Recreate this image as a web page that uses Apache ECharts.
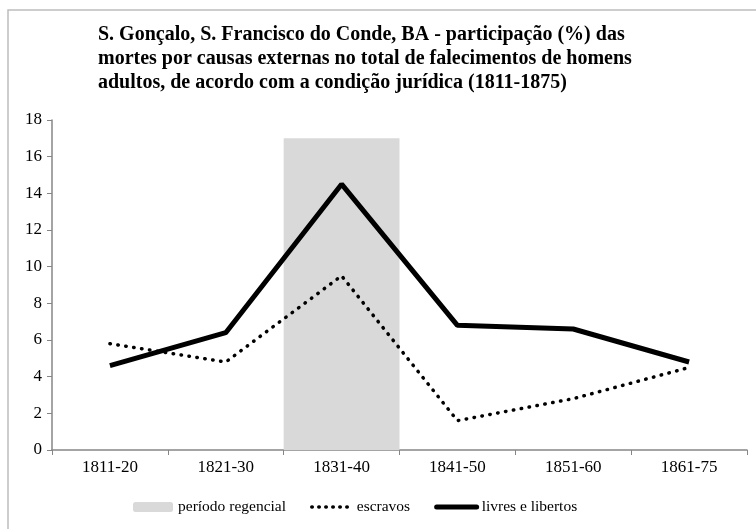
<!DOCTYPE html>
<html>
<head>
<meta charset="utf-8">
<script src="https://cdn.jsdelivr.net/npm/echarts@6/dist/echarts.min.js"></script>
<style>
  html, body { margin: 0; padding: 0; background: #fff; }
  #main { width: 756px; height: 529px; }
</style>
</head>
<body>
<div id="main"></div>
<script>
// periodos
var categories = ['1811-20', '1821-30', '1831-40', '1841-50', '1851-60', '1861-75'];
// faixa do periodo regencial (so na coluna 1831-40)
var regencial = [null, null, 17, null, null, null];
var escravos = [5.8, 4.8, 9.5, 1.6, 2.8, 4.5];
var livres = [4.6, 6.4, 14.5, 6.8, 6.6, 4.8];

var serif = '"Liberation Serif", "Times New Roman", serif';

var chart = echarts.init(document.getElementById('main'));

// sem bolinha no icone da legenda das linhas
var noSymbol = { color: 'transparent', borderWidth: 0, opacity: 0 };
var dotted = { color: '#000', width: 3.5, type: [0.5, 7.5], cap: 'round' };
var solid = { color: '#000', width: 5 };

var option = {
    backgroundColor: '#fff',
    animation: false,
    textStyle: { fontFamily: serif, color: '#000' },
    title: {
        text: 'S. Gonçalo, S. Francisco do Conde, BA - participação (%) das\nmortes por causas externas no total de falecimentos de homens\nadultos, de acordo com a condição jurídica (1811-1875)',
        left: 98,
        top: 23,
        padding: 0,
        textStyle: {
            fontFamily: serif,
            fontSize: 20,
            fontWeight: 'bold',
            color: '#000',
            lineHeight: 24
        }
    },
    graphic: [{
        type: 'rect',
        shape: { x: 8, y: 10, width: 800, height: 600 },
        style: { fill: 'none', stroke: '#bdbdbd', lineWidth: 1.5 },
        silent: true
    }],
    legend: {
        left: 133,
        top: 499,
        padding: 0,
        itemWidth: 40,
        itemHeight: 10,
        itemGap: 24,
        textStyle: { fontFamily: serif, fontSize: 15.5, color: '#000' },
        data: [
            { name: 'período regencial' },
            { name: 'escravos', itemStyle: noSymbol, lineStyle: { width: 3.5, type: [0.5, 6.5], cap: 'round' } },
            { name: 'livres e libertos', itemStyle: noSymbol, lineStyle: { width: 5, cap: 'round' } }
        ]
    },
    grid: { left: 52, right: 9, top: 120, bottom: 79 },
    xAxis: {
        type: 'category',
        data: categories,
        boundaryGap: true,
        axisLine: { lineStyle: { color: '#868686', width: 1.5 } },
        axisTick: { show: true, length: 5, lineStyle: { color: '#868686' } },
        axisLabel: { fontFamily: serif, fontSize: 17, color: '#000', margin: 9 }
    },
    yAxis: {
        type: 'value',
        min: 0,
        max: 18,
        interval: 2,
        splitLine: { show: false },
        axisLine: { show: true, lineStyle: { color: '#868686', width: 1.5 } },
        axisTick: { show: true, length: 5, lineStyle: { color: '#868686' } },
        axisLabel: { fontFamily: serif, fontSize: 17, color: '#000', margin: 10 }
    },
    series: [
        {
            name: 'período regencial',
            type: 'bar',
            data: regencial,
            barWidth: '100%',
            itemStyle: { color: '#d9d9d9' },
            z: 1
        },
        {
            name: 'escravos',
            type: 'line',
            data: escravos,
            symbol: 'none',
            itemStyle: { color: '#000' },
            lineStyle: dotted,
            z: 3
        },
        {
            name: 'livres e libertos',
            type: 'line',
            data: livres,
            symbol: 'none',
            itemStyle: { color: '#000' },
            lineStyle: solid,
            z: 4
        }
    ]
};

chart.setOption(option);
</script>
</body>
</html>
